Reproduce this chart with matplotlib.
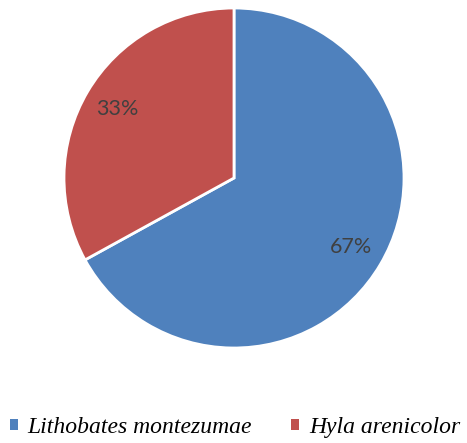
import matplotlib.pyplot as plt
from matplotlib.patches import Patch

species = ['Lithobates montezumae', 'Hyla arenicolor']
shares = [67, 33]
colors = ['#4F81BD', '#C0504D']

fig = plt.figure(figsize=(4.67, 4.43), dpi=100)
ax = fig.add_axes([64 / 467, 95 / 443, 340 / 467, 340 / 443])

wedges, texts, autotexts = ax.pie(
    shares, colors=colors, startangle=90, counterclock=False,
    autopct='%d%%', pctdistance=0.8, radius=1,
    wedgeprops={'edgecolor': 'white', 'linewidth': 2},
    textprops={'family': 'Lato', 'size': 15.5, 'color': '#404040'})
ax.set_xlim(-1, 1)
ax.set_ylim(-1, 1)
ax.set_aspect('equal')

handles = [Patch(facecolor=c, edgecolor='none') for c in colors]
fig.legend(handles, species, loc='center', bbox_to_anchor=(0.503, 0.034),
           ncol=2, frameon=False, handlelength=0.34, handleheight=0.34,
           handletextpad=0.42, columnspacing=1.65, borderpad=0,
           prop={'family': 'Liberation Serif', 'style': 'italic', 'size': 17})

fig.savefig('out.png', dpi=100)
